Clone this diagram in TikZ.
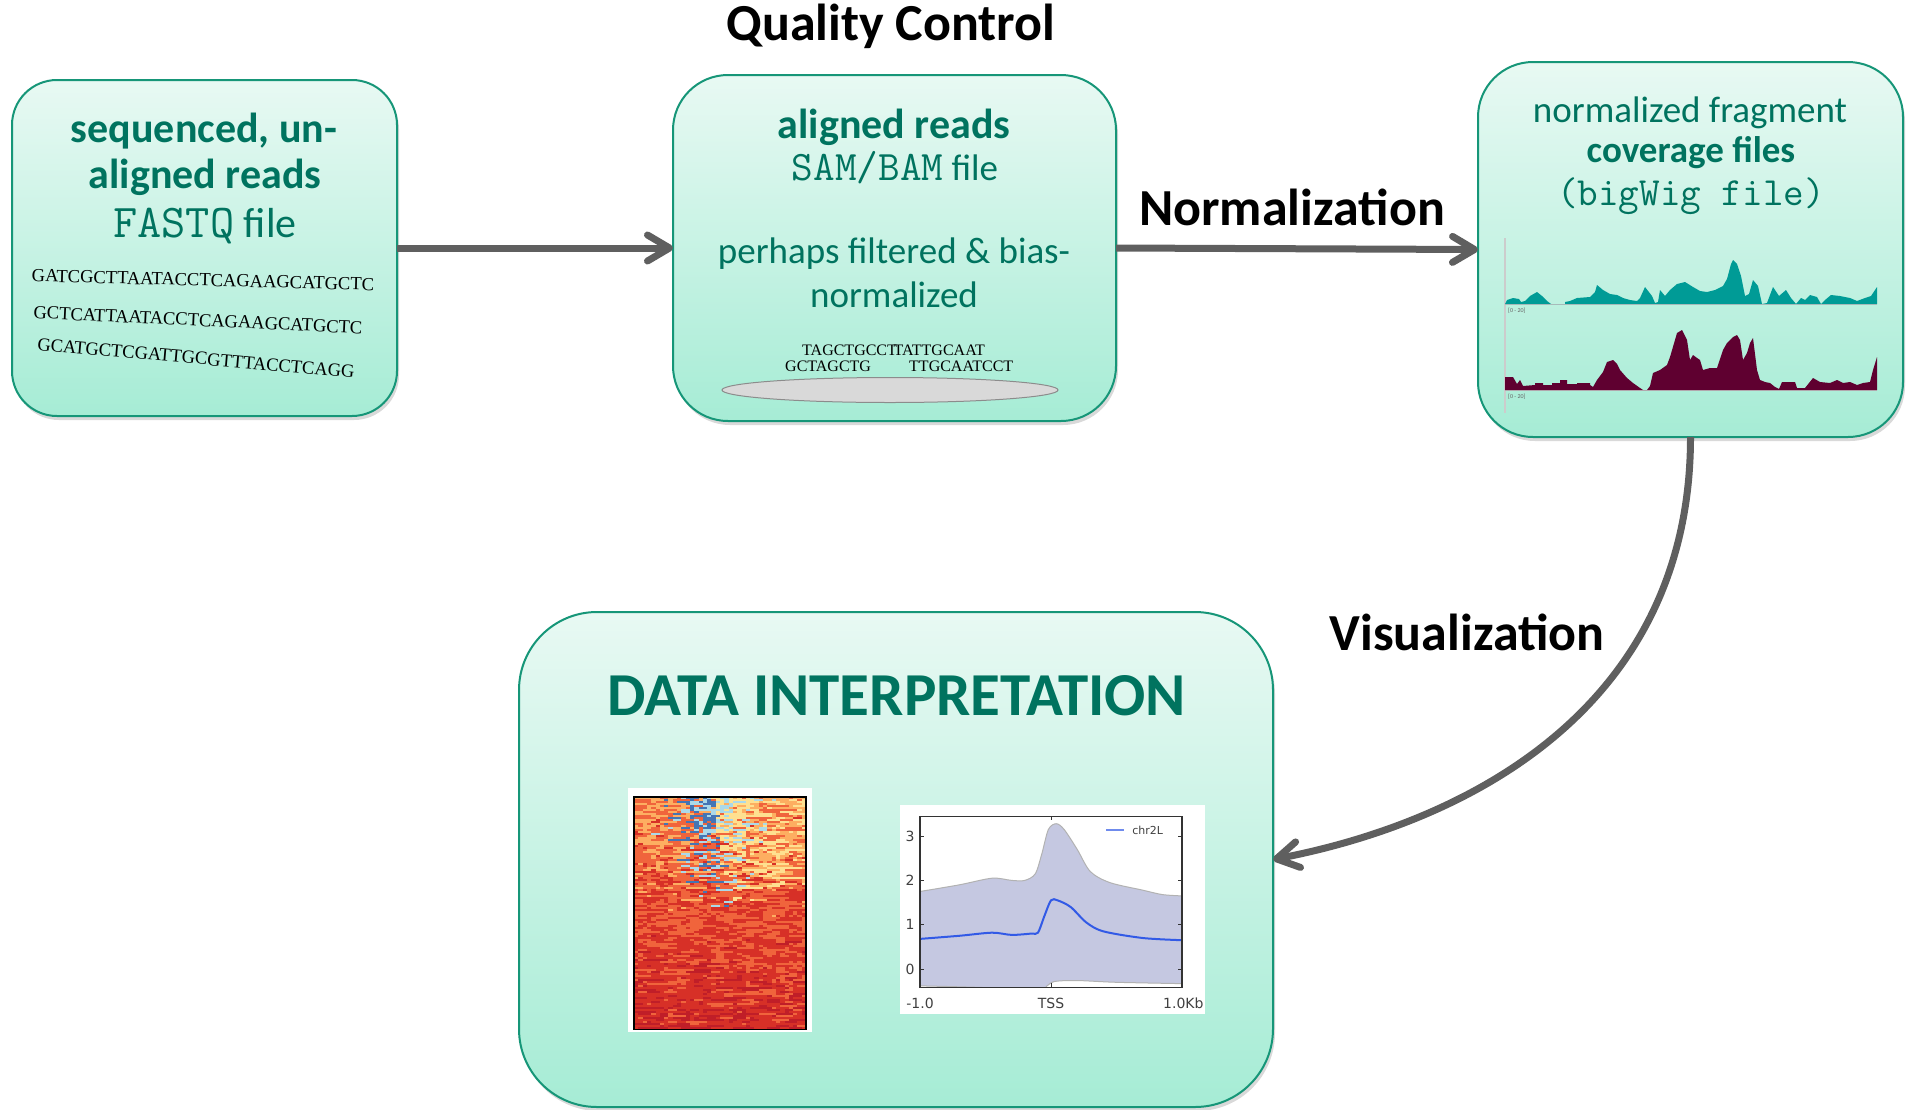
\documentclass[tikz,border=0pt]{standalone}
\usepackage{fontspec}
\setmainfont{Carlito}
\newfontfamily\dnafont{Liberation Serif}
\newfontfamily\plotfont{DejaVu Sans}
\usetikzlibrary{arrows.meta}
\usetikzlibrary{shadows}
\usetikzlibrary{calc}

\definecolor{tealtext}{RGB}{0,115,95}
\definecolor{boxtop}{RGB}{232,249,243}
\definecolor{boxbot}{RGB}{166,236,213}
\definecolor{boxline}{RGB}{22,150,120}
\definecolor{flowgray}{RGB}{95,95,95}
\definecolor{trackA}{RGB}{0,155,150}
\definecolor{trackB}{RGB}{95,0,48}
\definecolor{bandfill}{RGB}{197,200,225}
\definecolor{meanline}{RGB}{50,90,230}
\definecolor{hm0}{RGB}{69,117,180}
\definecolor{hm1}{RGB}{171,217,233}
\definecolor{hm2}{RGB}{254,224,144}
\definecolor{hm3}{RGB}{253,174,97}
\definecolor{hm4}{RGB}{240,100,60}
\definecolor{hm5}{RGB}{215,48,39}
\definecolor{hm6}{RGB}{192,30,40}

\begin{document}
\begin{tikzpicture}[x=1pt,y=-1pt,
  stage/.style={draw=boxline, line width=2pt, top color=boxtop, bottom color=boxbot,
    rounded corners=#1, inner sep=0pt, outer sep=0pt,
    drop shadow={shadow xshift=2pt,shadow yshift=-4pt,opacity=.3}},
  head/.style={text=tealtext, font=\bfseries\fontsize{#1}{#1}\selectfont, inner sep=0pt, anchor=base},
  body/.style={text=tealtext, font=\fontsize{#1}{#1}\selectfont, inner sep=0pt, anchor=base},
  dna/.style={font=\dnafont\fontsize{#1}{#1}\selectfont, inner sep=0pt},
  steplbl/.style={font=\bfseries\fontsize{52}{52}\selectfont, inner sep=0pt, anchor=base},
  flow/.style={draw=flowgray, line width=7pt, -{Straight Barb[length=22pt,width=26pt,round]}},
  tick/.style={font=\plotfont\fontsize{14}{14}\selectfont, text=black!75, inner sep=0pt}]

\useasboundingbox (0,0) rectangle (1906,1109);

% stages
\node[stage=45, minimum width=385pt, minimum height=336pt] (seq) at (204.5,248) {};
\node[stage=55, minimum width=443pt, minimum height=346pt] (aln) at (894.5,248) {};
\node[stage=55, minimum width=425pt, minimum height=375pt] (cov) at (1690.5,249.5) {};
\node[stage=78, minimum width=754pt, minimum height=495pt] (interp) at (896,859.5) {};

% step names
\node[steplbl] (qc) at (891,40) {Quality Control};
\node[steplbl] (norm) at (1292,225) {Normalization};
\node[steplbl] (vis) at (1467,650) {Visualization};

% raw reads
\node[head=42] (seqA) at (204,142) {sequenced, un-};
\node[head=42] (seqB) at (205,188) {aligned reads};
\node[body=42] (seqC) at (205,237) {{\ttfamily\fontsize{47}{47}\selectfont FASTQ} file};
\node[dna=18.5, rotate=-1.5] (rawA) at (203,280) {GATCGCTTAATACCTCAGAAGCATGCTC};
\node[dna=18.5, rotate=-2.7] (rawB) at (198,320) {GCTCATTAATACCTCAGAAGCATGCTC};
\node[dna=18.5, rotate=-5] (rawC) at (196,358) {GCATGCTCGATTGCGTTTACCTCAGG};

% aligned reads
\node[head=42] (alnA) at (894,138) {aligned reads};
\node[body=37] (alnB) at (895,180) {{\ttfamily\fontsize{42}{42}\selectfont SAM/BAM} file};
\node[body=37] (alnC) at (894,263) {perhaps filtered \& bias-};
\node[body=37] (alnD) at (894,307) {normalized};
\node[dna=16, anchor=base west] (readA) at (802,355) {TAGCTGCCT};
\node[dna=16, anchor=base east] (readB) at (985,355) {TATTGCAAT};
\node[dna=16, anchor=base west] (readC) at (785,371) {GCTAGCTG};
\node[dna=16, anchor=base west] (readD) at (909,371) {TTGCAATCCT};
\draw[fill=black!15, draw=black!45, line width=1pt] (890,390) ellipse [x radius=168pt, y radius=12.5pt];

% coverage tracks
\node[body=37] (covA) at (1690,122) {normalized fragment};
\node[head=37] (covB) at (1691,162) {coverage files};
\node[body=40, font=\ttfamily\fontsize{40}{40}\selectfont] (covC) at (1691,205) {(bigWig file)};
\draw[black!20, line width=1.5pt] (1505,238) -- (1505,413);
\draw[black!25, line width=1pt] (1505,304) -- (1877,304);
\draw[black!25, line width=1pt] (1505,390) -- (1877,390);
\fill[trackA] (1505,304) \foreach \dx/\h in {0/0,2/4,8/6,14/5,16/2,20/3,25/8,32/12,37/8,42/3,46/0,60/0,60/2,65/3,72/6,85/7,90/12,92/19,98/14,105/10,112/9,118/6,125/4,132/3,135/6,140/17,147/8,150/1,153/2,155/14,160/8,165/14,172/20,180/22,188/17,195/13,202/12,210/14,218/18,222/25,226/40,228/44,232/40,236/28,240/8,244/10,248/24,253/18,257/0,262/1,268/17,274/8,281/14,286/6,291/0,296/6,300/4,305/9,312/7,316/0,320/4,326/9,335/8,345/6,352/3,360/6,366/8,372/17,372/0} { -- (1505+\dx,304-\h) } -- cycle;
\fill[trackB] (1505,390) \foreach \dx/\h in {0/0,0/13,8/13,12/6,15/10,18/4,30/5,30/7,38/7,38/5,47/5,47/7,55/7,55/10,62/10,62/6,72/6,72/7,85/7,85/5,88/3,92/10,98/18,102/28,108/30,112/26,115/20,122/12,128/7,135/2,138/0,142/0,145/4,148/17,155/20,162/25,165/33,172/57,177/60,182/50,185/30,188/35,192/32,195/30,198/20,205/22,212/22,218/40,222/47,225/50,228/53,232/55,235/50,238/30,242/37,245/47,248/52,252/20,255/10,260/8,265/7,270/3,274/1,277/8,285/8,290/8,292/2,300/2,308/12,315/8,325/7,332/10,338/7,345/8,352/5,358/7,365/8,368/20,372/33,372/0} { -- (1505+\dx,390-\h) } -- cycle;
\node[font=\fontsize{6}{6}\selectfont, text=black!60, anchor=west, inner sep=0pt] (rangeA) at (1508,311) {[0 - 20]};
\node[font=\fontsize{6}{6}\selectfont, text=black!60, anchor=west, inner sep=0pt] (rangeB) at (1508,397) {[0 - 20]};

% interpretation
\node[head=61] (interpA) at (897,715) {DATA INTERPRETATION};

% heatmap, streaky rows
\fill[white] (628,788) rectangle (812,1032);
\pgfmathsetseed{11}
\gdef\lastk{4}
\foreach \r in {0,...,115}{
  \foreach \c in {0,...,39}{
    \pgfmathsetmacro{\t}{\r/115}
    \pgfmathsetmacro{\u}{\c/39}
    \pgfmathsetmacro{\cc}{0.46+0.18*\t}
    \pgfmathsetmacro{\p}{exp(-((\u-\cc)/0.2)^2)*max(0,1-\t/0.5)}
    \pgfmathtruncatemacro{\k}{(\c>0 && rnd<0.45*(1-\p)) ? \lastk : (rnd<\p ? (\u<\cc ? int(1.6*rnd) : 1+int(1.99*rnd)) : ((\u>\cc+0.05 && \t<0.4 && rnd<0.45) ? 2+int(2*rnd) : 3+min(3,int(1.9*rnd+1.9*\t))))}
    \global\let\lastk\k
    \fill[fill=hm\k] (634+\c*4.3,797+\r*2) rectangle ++(4.4,2.1);
  }
}
\draw[black, line width=1.5pt] (634,797) rectangle (806,1029.5);

% profile plot
\fill[white] (900,805) rectangle (1205,1014);
\begin{scope}[shift={(1051,969)}, x=131pt, y=44.3pt]
  \begin{scope}
    \clip (-1,-0.41) rectangle (1,3.45);
    \fill[bandfill, draw=black!30, line width=1pt] plot[smooth] coordinates {(-1,1.75) (-0.7,1.9) (-0.45,2.05) (-0.3,2.0) (-0.2,2.0) (-0.12,2.15) (-0.07,2.6) (-0.02,3.15) (0.04,3.28) (0.1,3.15) (0.2,2.7) (0.3,2.2) (0.45,1.95) (0.7,1.78) (0.85,1.68) (1,1.65)}
      -- plot[smooth] coordinates {(1,-0.33) (0.5,-0.3) (0.2,-0.26) (0.03,-0.28) (-0.03,-0.38) (-0.08,-0.52) (-0.2,-0.48) (-0.5,-0.42) (-1,-0.38)} -- cycle;
    \draw[meanline, line width=2pt] plot[smooth] coordinates {(-1,0.68) (-0.7,0.75) (-0.45,0.82) (-0.3,0.77) (-0.15,0.8) (-0.1,0.82) (-0.05,1.2) (0,1.55) (0.05,1.55) (0.15,1.4) (0.27,1.05) (0.4,0.85) (0.7,0.7) (1,0.65)};
  \end{scope}
  \draw[black!80, line width=1.2pt] (-1,-0.41) rectangle (1,3.45);
  \foreach \v in {0,1,2,3}{
    \draw[black!80, line width=1pt] (-1,\v) -- ++(4pt,0) (1,\v) -- ++(-4pt,0);
    \node[tick, anchor=east] (ytick\v) at (-1.04,\v) {\v};
  }
  \draw[black!80, line width=1pt] (0,-0.41) -- ++(0,4pt) (0,3.45) -- ++(0,-4pt);
  \node[tick] (xtickA) at (-1,-0.77) {-1.0};
  \node[tick] (xtickB) at (0,-0.77) {TSS};
  \node[tick] (xtickC) at (1.01,-0.77) {1.0Kb};
  \draw[meanline!70, line width=2pt] (0.42,3.14) -- (0.557,3.14);
  \node[tick, font=\plotfont\fontsize{11}{11}\selectfont, anchor=west] (legend) at (0.62,3.14) {chr2L};
\end{scope}

% connectors
\draw[flow] (seq.east) -- (aln.west);
\draw[flow] (aln.east) -- (cov.west);
\draw[flow] (cov.south) .. controls +(0,263) and +(207,-40) .. (interp.east);
\end{tikzpicture}
\end{document}
